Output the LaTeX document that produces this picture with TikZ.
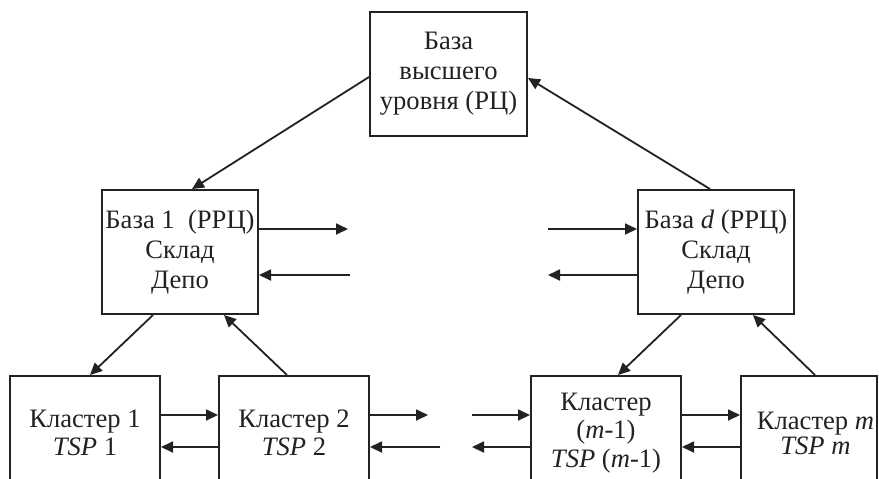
\documentclass[tikz,border=0pt]{standalone}
\usepackage{fontspec}
\setmainfont{Liberation Serif}
\usetikzlibrary{arrows.meta}
\definecolor{ink}{HTML}{222222}
\tikzset{
  box/.style={draw=ink, line width=1pt, rectangle, inner sep=0pt, align=center, text=ink,
              font=\fontsize{13.3}{15}\selectfont},
  clbox/.style={box, minimum width=75pt, minimum height=57pt, font=\fontsize{13.3}{14.3}\selectfont},
  lbl/.style={inner sep=0pt, align=center, text=ink},
  arr/.style={draw=ink, line width=0.9pt, -{Triangle[length=6pt,width=5.5pt]}}
}
\begin{document}
\begin{tikzpicture}[x=0.5pt,y=-0.5pt]
\useasboundingbox (0,0) rectangle (879,478);
\clip (0,0) rectangle (879,478);
\fill[white] (0,0) rectangle (879,478);
% boxes
\node[box, minimum width=78.5pt, minimum height=62pt] (top) at (448.5,74) {База\\высшего\\уровня (РЦ)};
\node[box, minimum width=78pt, minimum height=62pt] (left) at (180,252) {База 1\ \ (РРЦ)\\Склад\\Депо};
\node[box, minimum width=78pt, minimum height=62pt] (right) at (716,252) {База \textit{d} (РРЦ)\\Склад\\Депо};
\node[clbox] (k1) at (85,433) {Кластер 1\\\textit{TSP} 1};
\node[clbox] (k2) at (294,433) {Кластер 2\\\textit{TSP} 2};
\node[clbox] (km1) at (606,433) {Кластер\\(\textit{m}-1)\\\textit{TSP} (\textit{m}-1)};
\node[clbox, minimum width=68pt] (km) at (809,433) {};
\node[lbl, font=\fontsize{13.3}{12.5}\selectfont] (kmt) at (815.5,433) {Кластер \textit{m}\\\textit{TSP m}};
% free ends
\coordinate (a1) at (348,229);
\coordinate (a2) at (350,275);
\coordinate (b1) at (548,229);
\coordinate (b2) at (548,275);
\coordinate (c1) at (428,415);
\coordinate (c2) at (440,447);
\coordinate (d1) at (472,415);
\coordinate (d2) at (472,447);
% diagonal arrows
\draw[arr] ([yshift=-1.5pt]top.west) -- ([xshift=6pt]left.north);
\draw[arr] ([xshift=-3pt]right.north) -- ([yshift=-2pt]top.east);
\draw[arr] ([xshift=-13.5pt]left.south) -- ([xshift=2.5pt]k1.north);
\draw[arr] ([xshift=-3.5pt]k2.north) -- ([xshift=22pt]left.south);
\draw[arr] ([xshift=-17.5pt]right.south) -- ([xshift=6pt]km1.north);
\draw[arr] ([xshift=3pt]km.north) -- ([xshift=18.5pt]right.south);
% horizontal arrows, upper level
\draw[arr] ([yshift=11.5pt]left.east) -- (a1);
\draw[arr] (a2) -- ([yshift=-11.5pt]left.east);
\draw[arr] (b1) -- ([yshift=11.5pt]right.west);
\draw[arr] ([yshift=-11.5pt]right.west) -- (b2);
% horizontal arrows, lower level
\draw[arr] ([yshift=9pt]k1.east) -- ([yshift=9pt]k2.west);
\draw[arr] ([yshift=-7pt]k2.west) -- ([yshift=-7pt]k1.east);
\draw[arr] ([yshift=9pt]k2.east) -- (c1);
\draw[arr] (c2) -- ([yshift=-7pt]k2.east);
\draw[arr] (d1) -- ([yshift=9pt]km1.west);
\draw[arr] ([yshift=-7pt]km1.west) -- (d2);
\draw[arr] ([yshift=9pt]km1.east) -- ([yshift=9pt]km.west);
\draw[arr] ([yshift=-7pt]km.west) -- ([yshift=-7pt]km1.east);
\end{tikzpicture}
\end{document}
